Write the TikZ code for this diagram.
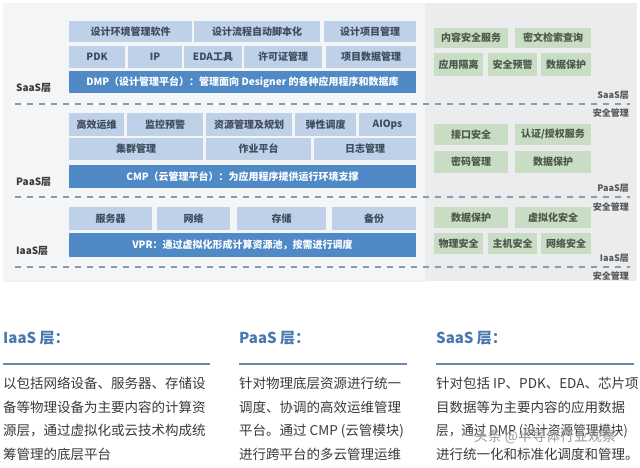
\documentclass[tikz,border=0pt]{standalone}
\usepackage{fontspec}
\usepackage{graphicx}
\setmainfont{Noto Sans CJK SC}
\usetikzlibrary{shadows}
\definecolor{lbfill}{HTML}{BFD1E8}
\definecolor{lbtext}{HTML}{3E4C5E}
\definecolor{dbfill}{HTML}{4F89C6}
\definecolor{gbfill}{HTML}{C9DDC5}
\definecolor{gbtext}{HTML}{4A5848}
\definecolor{panelL}{HTML}{F4F5F7}
\definecolor{panelR}{HTML}{EBECEE}
\definecolor{dashc}{HTML}{8C9AAA}
\definecolor{headc}{HTML}{4A78B0}
\definecolor{rulec}{HTML}{6A87AD}
\definecolor{bodyc}{HTML}{3A3A3A}
\definecolor{labc}{HTML}{3A3A3A}
\tikzset{
  boxbase/.style={inner sep=0pt, outer sep=0pt, font=\fontsize{10}{12}\selectfont\bfseries},
  lbox/.style={boxbase, fill=lbfill, text=lbtext},
  dbox/.style={boxbase, fill=dbfill, text=white},
  gbox/.style={boxbase, fill=gbfill, text=gbtext},
  laylab/.style={font=\fontsize{10}{12}\selectfont\bfseries, text=labc, inner sep=0pt},
  seclab/.style={font=\fontsize{9}{11}\selectfont\bfseries, text=labc!85, inner sep=0pt, anchor=east},
  sepline/.style={dashc, line width=1.1pt, dash pattern=on 6pt off 6pt},
  heading/.style={font=\fontsize{15}{18}\selectfont\bfseries, text=headc, anchor=west, inner sep=0pt},
  hrule/.style={rulec, line width=2.4pt},
  bodytxt/.style={font=\fontsize{13.5}{23.5}\selectfont, text=bodyc, anchor=north west, align=left, inner sep=0pt},
}
\newcommand\bx[7]{\node[#1, minimum width={(#4-#2)*1pt}, minimum height={(#5-#3)*1pt}] (#7) at ({(#2+#4)/2},{(#3+#5)/2}) {#6};}
\begin{document}
\begin{tikzpicture}[x=1pt,y=-1pt]
\useasboundingbox (0,0) rectangle (640,468);
\fill[white] (0,0) rectangle (640,468);
% panels
\fill[panelL, drop shadow={opacity=0.12, shadow xshift=0.5pt, shadow yshift=-1pt}] (3,3) rectangle (425,281);
\fill[panelR] (425,3) rectangle (637,281);
% SaaS
\bx{lbox}{69}{21}{192}{42}{设计环境管理软件}{s1}
\bx{lbox}{194}{21}{320}{42}{设计流程自动脚本化}{s2}
\bx{lbox}{324}{21}{416}{42}{设计项目管理}{s3}
\bx{lbox}{69}{46}{125}{68}{PDK}{s4}
\bx{lbox}{128}{46}{182}{68}{IP}{s5}
\bx{lbox}{184}{46}{242}{68}{EDA工具}{s6}
\bx{lbox}{244}{46}{322}{68}{许可证管理}{s7}
\bx{lbox}{326}{46}{416}{68}{项目数据管理}{s8}
\bx{dbox}{69}{71}{416}{93}{DMP（设计管理平台）：管理面向 Designer 的各种应用程序和数据库}{dmp}
\node[laylab, anchor=west] (lsaas) at (16,88) {SaaS层};
% PaaS
\bx{lbox}{69}{113}{124}{136}{高效运维}{p1}
\bx{lbox}{127}{113}{203}{136}{监控预警}{p2}
\bx{lbox}{206}{113}{292}{136}{资源管理及规划}{p3}
\bx{lbox}{295}{113}{356}{136}{弹性调度}{p4}
\bx{lbox}{359}{113}{416}{136}{AIOps}{p5}
\bx{lbox}{69}{138}{203}{160}{集群管理}{p6}
\bx{lbox}{206}{138}{311}{160}{作业平台}{p7}
\bx{lbox}{314}{138}{416}{160}{日志管理}{p8}
\bx{dbox}{69}{165}{416}{188}{CMP（云管理平台）：为应用程序提供运行环境支撑}{cmp}
\node[laylab, anchor=west] (lpaas) at (16,182) {PaaS层};
% IaaS
\bx{lbox}{69}{207}{152}{230}{服务器}{i1}
\bx{lbox}{157}{207}{230}{230}{网络}{i2}
\bx{lbox}{237}{207}{326}{230}{存储}{i3}
\bx{lbox}{332}{207}{416}{230}{备份}{i4}
\bx{dbox}{69}{233}{416}{257}{VPR：通过虚拟化形成计算资源池，按需进行调度}{vpr}
\node[laylab, anchor=west] (liaas) at (16,251) {IaaS层};
% separators
\coordinate (d1a) at (15,104); \coordinate (d1b) at (630,104);
\coordinate (d2a) at (15,197); \coordinate (d2b) at (630,197);
\coordinate (d3a) at (15,267); \coordinate (d3b) at (630,267);
\draw[sepline] (d1a) -- (d1b);
\draw[sepline] (d2a) -- (d2b);
\draw[sepline] (d3a) -- (d3b);
% security
\bx{gbox}{434}{28}{508}{48}{内容安全服务}{g1}
\bx{gbox}{515}{28}{591}{48}{密文检索查询}{g2}
\bx{gbox}{434}{53}{483}{76}{应用隔离}{g3}
\bx{gbox}{488}{53}{537}{76}{安全预警}{g4}
\bx{gbox}{541}{53}{591}{76}{数据保护}{g5}
\bx{gbox}{434}{124}{508}{145}{接口安全}{g6}
\bx{gbox}{515}{124}{591}{145}{认证/授权服务}{g7}
\bx{gbox}{434}{151}{508}{173}{密码管理}{g8}
\bx{gbox}{515}{151}{591}{173}{数据保护}{g9}
\bx{gbox}{434}{207}{508}{228}{数据保护}{g10}
\bx{gbox}{515}{207}{591}{228}{虚拟化安全}{g11}
\bx{gbox}{434}{233}{483}{254}{物理安全}{g12}
\bx{gbox}{488}{233}{537}{254}{主机安全}{g13}
\bx{gbox}{541}{233}{591}{254}{网络安全}{g14}
\node[seclab] (r1) at (629,95) {SaaS层};
\node[seclab] (r2) at (629,113) {安全管理};
\node[seclab] (r3) at (629,188) {PaaS层};
\node[seclab] (r4) at (629,207) {安全管理};
\node[seclab] (r5) at (629,258) {IaaS层};
\node[seclab] (r6) at (629,276) {安全管理};
% bottom descriptions
\node[heading] (h1) at (3,338) {IaaS 层：};
\node[heading] (h2) at (239,338) {PaaS 层：};
\node[heading] (h3) at (436,338) {SaaS 层：};
\coordinate (u1a) at (3,364); \coordinate (u1b) at (210,364);
\coordinate (u2a) at (239,364); \coordinate (u2b) at (407,364);
\coordinate (u3a) at (436,364); \coordinate (u3b) at (634,364);
\draw[hrule] (u1a) -- (u1b);
\draw[hrule] (u2a) -- (u2b);
\draw[hrule] (u3a) -- (u3b);
\node[bodytxt] (t1) at (3,377) {以包括网络设备、服务器、存储设\\备等物理设备为主要内容的计算资\\源层，通过虚拟化或云技术构成统\\筹管理的底层平台};
\node[bodytxt] (t2) at (239,377) {针对物理底层资源进行统一\\调度、协调的高效运维管理\\平台。通过 CMP (云管模块)\\进行跨平台的多云管理运维};
\node[bodytxt] (t3) at (436,377) {针对包括 IP、PDK、EDA、芯片项\\目数据等为主要内容的应用数据\\\scalebox{0.93}[1]{层，通过 DMP (设计资源管理模块)}\\进行统一化和标准化调度和管理。};
% watermark
\node[font=\fontsize{14}{16}\selectfont, text=black!40, inner sep=0pt] (wm) at (545,437) {头条 @半导体行业观察};
\end{tikzpicture}
\end{document}
